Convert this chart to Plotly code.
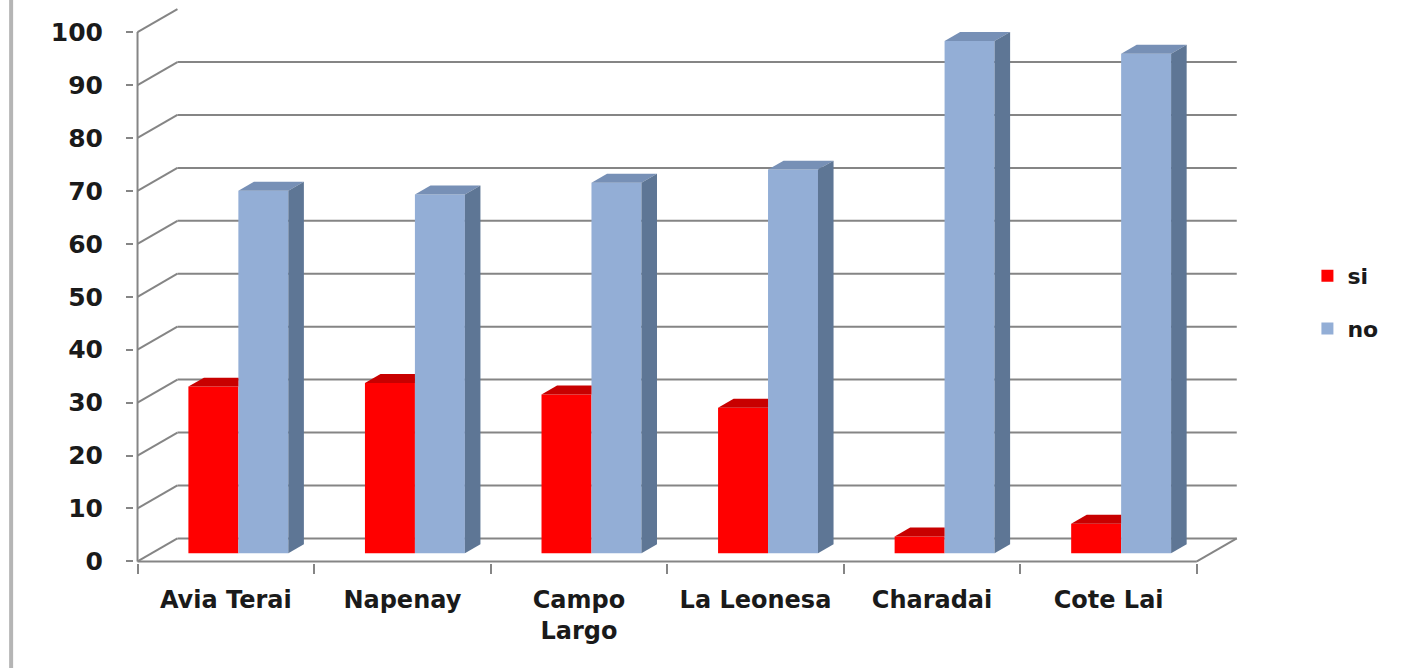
import plotly.graph_objects as go

# --- data -------------------------------------------------------------
categories = ["Avia Terai", "Napenay", "Campo<br>Largo", "La Leonesa", "Charadai", "Cote Lai"]
si_values = [31.5, 32.2, 30.0, 27.5, 3.2, 5.6]
no_values = [68.5, 67.8, 70.0, 72.5, 96.8, 94.4]
y_ticks = [0, 10, 20, 30, 40, 50, 60, 70, 80, 90, 100]

# --- 3D look (oblique projection expressed in axis units) --------------
DX = 0.226          # depth shift along x (category units)
DY = 4.35           # depth shift along y (value units)
F1, F2 = 0.35, 0.74 # front / back depth fraction of the columns
BAR_W = 0.283
LEFT = {"si": 0.209, "no": 0.209 + BAR_W}

GRID = "#858585"
FONT = "DejaVu Sans"

series = [
    ("si", si_values, "#FF0000", "#C80000", "#A00000"),
    ("no", no_values, "#93AED6", "#7790B6", "#5E7695"),
]

n = len(categories)
fig = go.Figure()

# wall / floor lines sit underneath the columns
shapes = []


def seg(x0, y0, x1, y1):
    shapes.append(dict(type="line", xref="x", yref="y", x0=x0, y0=y0, x1=x1, y1=y1,
                       layer="below", line=dict(color=GRID, width=2)))


for v in y_ticks:
    if v < 100:
        seg(DX, v + DY, n + DX, v + DY)      # back wall gridline
    seg(0, v, DX, v + DY)                    # side wall connector
seg(0, 0, n, 0)                              # front floor edge
seg(n, 0, n + DX, DY)                        # right floor edge
seg(0, 0, 0, 100)                            # front value axis

# chart frame on the left
shapes.append(dict(type="line", xref="paper", yref="paper",
                   x0=-0.111, x1=-0.111, y0=-0.2, y1=1.01,
                   line=dict(color="#b5b5b5", width=4)))

for k, (name, vals, front, top, side) in enumerate(series):
    # front faces
    fig.add_trace(go.Bar(
        x=[i + LEFT[name] + BAR_W / 2 + F1 * DX for i in range(n)],
        y=vals, base=[F1 * DY] * n, width=BAR_W, name=name,
        marker=dict(color=front, line=dict(width=0)),
        legendgroup=name, legendrank=k + 1, hoverinfo="x+y",
    ))

for name, vals, front, top, side in series:
    for i, v in enumerate(vals):
        xl = i + LEFT[name]
        xf0 = xl + F1 * DX
        xf1 = xl + BAR_W + F1 * DX
        xb0 = xl + F2 * DX
        xb1 = xl + BAR_W + F2 * DX
        yt1 = F1 * DY + v
        yt2 = F2 * DY + v
        if name == "si":
            # the taller neighbouring column hides the right part of the top
            xs = [xf0, xf1, xf1, xb0, xf0]
            ys = [yt1, yt1, yt2, yt2, yt1]
        else:
            xs = [xf0, xf1, xb1, xb0, xf0]
            ys = [yt1, yt1, yt2, yt2, yt1]
        fig.add_trace(go.Scatter(x=xs, y=ys, mode="lines", fill="toself", fillcolor=top,
                                 line=dict(width=0, color=top), hoverinfo="skip",
                                 showlegend=False))
        if name == "no":
            xs = [xf1, xb1, xb1, xf1, xf1]
            ys = [F1 * DY, F2 * DY, yt2, yt1, F1 * DY]
            fig.add_trace(go.Scatter(x=xs, y=ys, mode="lines", fill="toself", fillcolor=side,
                                     line=dict(width=0, color=side), hoverinfo="skip",
                                     showlegend=False))

fig.update_layout(
    width=1408, height=668,
    margin=dict(l=133.5, r=167, t=3, b=105.4),
    paper_bgcolor="white", plot_bgcolor="white",
    barmode="overlay",
    font=dict(family=FONT, color="#1a1a1a"),
    legend=dict(x=1.06, y=0.55, xanchor="left", yanchor="top",
                font=dict(family=FONT, size=22, color="#1a1a1a", weight="bold"),
                tracegroupgap=21, bgcolor="rgba(0,0,0,0)"),
    xaxis=dict(range=[-0.02, n + 0.25], tickmode="array",
               tickvals=[i + 0.5 for i in range(n)], ticktext=categories,
               ticks="", showgrid=False, zeroline=False, showline=False,
               ticklabelstandoff=20,
               tickfont=dict(family=FONT, size=24, color="#1a1a1a", weight="bold"),
               minor=dict(tickmode="array", tickvals=list(range(n + 1)), ticks="outside",
                          ticklen=10, tickcolor=GRID, tickwidth=2, showgrid=False),
               fixedrange=True),
    yaxis=dict(range=[-0.3, 105.5], tickmode="array", tickvals=y_ticks,
               ticks="outside", ticklen=7, tickcolor=GRID, tickwidth=2,
               showgrid=False, zeroline=False, showline=False,
               ticklabelstandoff=18,
               tickfont=dict(family=FONT, size=25, color="#1a1a1a", weight="bold"),
               fixedrange=True),
    shapes=shapes,
)

fig.write_html("out.html")
